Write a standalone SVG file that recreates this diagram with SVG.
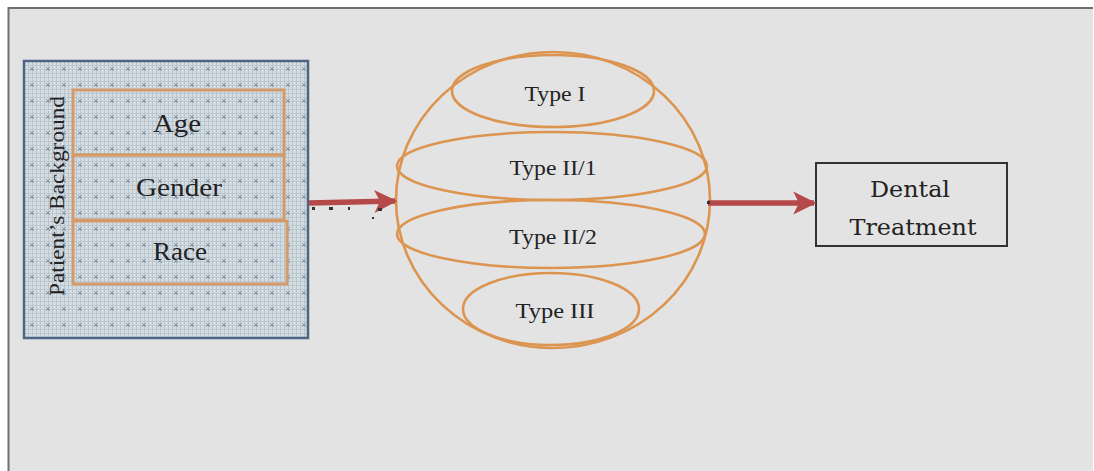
<svg xmlns="http://www.w3.org/2000/svg" width="1094" height="471" viewBox="0 0 1094 471">
  <defs>
    <!-- fine dot grid with small crosses, used for the background panel -->
    <pattern id="grid" x="24" y="61" width="16" height="16" patternUnits="userSpaceOnUse">
      <rect width="16" height="16" fill="#d5dde3"/>
      <g fill="#b9c6d0">
        <rect x="0" y="0" width="16" height="1"/>
        <rect x="0" y="4" width="16" height="1"/>
        <rect x="0" y="8" width="16" height="1"/>
        <rect x="0" y="12" width="16" height="1"/>
        <rect x="0" y="0" width="1" height="16"/>
        <rect x="4" y="0" width="1" height="16"/>
        <rect x="8" y="0" width="1" height="16"/>
        <rect x="12" y="0" width="1" height="16"/>
      </g>
      <path d="M6 6 L10 10 M10 6 L6 10" stroke="#7f90a2" stroke-width="1"/>
    </pattern>
    <marker id="head" viewBox="0 0 10 10" refX="9" refY="5" markerWidth="4.2" markerHeight="4.6" markerUnits="strokeWidth" orient="auto">
      <path d="M0 0 L10 5 L0 10 L2.5 5 Z" fill="#b5494a"/>
    </marker>
    <style>
      .serif { font-family: "Liberation Serif", "Times New Roman", serif; fill: #222; }
      .cam { font-family: "DejaVu Serif", "Liberation Serif", serif; fill: #222; }
      .org { fill: none; stroke: #dc9550; stroke-width: 2.6; }
      .sep { fill: none; stroke: #d49a6a; stroke-width: 3; }
      .conn { stroke: #b5494a; stroke-width: 5.5; fill: none; }
    </style>
  </defs>

  <!-- page frame -->
  <rect x="0" y="0" width="1094" height="471" fill="#ffffff"/>
  <rect x="8" y="8" width="1085" height="463" fill="#e3e3e3"/>
  <path d="M8.5 471 V8 H1093" fill="none" stroke="#707070" stroke-width="2"/>

  <!-- patient background block -->
  <g id="patient-background">
    <rect x="24" y="61" width="284" height="277" fill="url(#grid)" stroke="#4e6585" stroke-width="2.5"/>
    <text class="serif" font-size="22" text-anchor="middle" textLength="200" lengthAdjust="spacingAndGlyphs" transform="translate(64 196) rotate(-90)">Patient’s Background</text>
  </g>
  <g id="age">
    <rect class="sep" x="73" y="90" width="211" height="65"/>
    <text class="serif" font-size="25" x="177" y="132" text-anchor="middle" textLength="48" lengthAdjust="spacingAndGlyphs">Age</text>
  </g>
  <g id="gender">
    <rect class="sep" x="73" y="155" width="211" height="65"/>
    <text class="serif" font-size="25" x="179" y="196" text-anchor="middle" textLength="86" lengthAdjust="spacingAndGlyphs">Gender</text>
  </g>
  <g id="race">
    <rect class="sep" x="73" y="221" width="214" height="63"/>
    <text class="serif" font-size="25" x="180" y="260" text-anchor="middle" textLength="54" lengthAdjust="spacingAndGlyphs">Race</text>
  </g>

  <!-- classification sphere -->
  <g id="sphere">
    <ellipse class="org" cx="553" cy="200" rx="157" ry="148"/>
  </g>
  <g id="type-1">
    <ellipse class="org" cx="553" cy="91" rx="101" ry="36"/>
    <text class="serif" font-size="22" x="555" y="101" text-anchor="middle" textLength="61" lengthAdjust="spacingAndGlyphs">Type I</text>
  </g>
  <g id="type-2-1">
    <ellipse class="org" cx="552" cy="166" rx="155" ry="34"/>
    <text class="serif" font-size="22" x="553" y="175" text-anchor="middle" textLength="87" lengthAdjust="spacingAndGlyphs">Type II/1</text>
  </g>
  <g id="type-2-2">
    <ellipse class="org" cx="551" cy="234" rx="154" ry="34"/>
    <text class="serif" font-size="22" x="553" y="244" text-anchor="middle" textLength="88" lengthAdjust="spacingAndGlyphs">Type II/2</text>
  </g>
  <g id="type-3">
    <ellipse class="org" cx="551" cy="309" rx="88" ry="36"/>
    <text class="serif" font-size="22" x="555" y="318" text-anchor="middle" textLength="79" lengthAdjust="spacingAndGlyphs">Type III</text>
  </g>

  <!-- outcome box -->
  <g id="dental-treatment">
    <rect x="816" y="163" width="191" height="83" fill="#e3e3e3" stroke="#333" stroke-width="2"/>
    <text class="cam" font-size="23" x="910" y="197" text-anchor="middle" textLength="80" lengthAdjust="spacingAndGlyphs">Dental</text>
    <text class="cam" font-size="23" x="913" y="235" text-anchor="middle" textLength="127" lengthAdjust="spacingAndGlyphs">Treatment</text>
  </g>

  <!-- connectors -->
  <g id="connectors">
    <line class="conn" x1="309" y1="203" x2="395" y2="201" marker-end="url(#head)"/>
    <g fill="#333">
      <rect x="312" y="207" width="3" height="3"/>
      <rect x="329" y="207" width="4" height="3"/>
      <rect x="348" y="207" width="2" height="3"/>
      <rect x="378" y="208" width="4" height="3"/>
      <rect x="372" y="217" width="2" height="2"/>
    </g>
    <line class="conn" x1="708" y1="203" x2="814" y2="203" marker-end="url(#head)"/>
    <rect x="707" y="201" width="3" height="3" fill="#333"/>
  </g>
</svg>
